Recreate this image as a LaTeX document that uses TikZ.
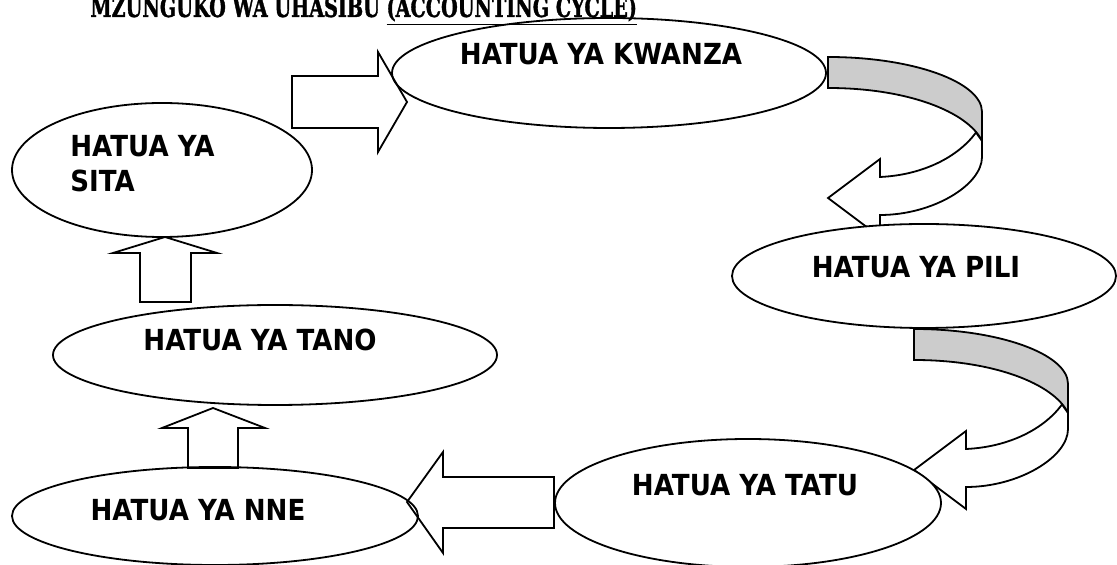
\documentclass[tikz,border=0pt]{standalone}
\usepackage{fontspec}
\newfontfamily\lblfont{DejaVu Sans}[FakeStretch=0.9]
\newfontfamily\ttlfont{DejaVu Serif}[FakeStretch=0.7,BoldFeatures={FakeBold=1.2}]
\usetikzlibrary{shapes.geometric}
\definecolor{bandgray}{RGB}{204,204,204}
\tikzset{
  curvedarrow/.pic={
    \draw[fill=bandgray,line width=0.9pt,line join=miter]
      (0,0) .. controls (85,0) and (154,25) .. (154,55) -- (154,84)
      .. controls (140,55) and (80,31) .. (0,31) -- cycle;
    \draw[fill=white,line width=0.9pt,line join=miter]
      (148,75.5) .. controls (130,100) and (95,118) .. (52,120)
      -- (52,102) -- (0,141) -- (52,180) -- (52,158)
      .. controls (105,158) and (154,128) .. (154,100) -- (154,84) -- cycle;
  }
}
\begin{document}
\begin{tikzpicture}[x=0.5pt,y=-0.5pt,
  stepell/.style={ellipse,draw,fill=white,line width=0.9pt,inner sep=0pt},
  lbl/.style={font=\lblfont\bfseries\fontsize{14.5}{17.5}\selectfont,inner sep=0pt},
  blockarrow/.style={draw,line width=0.9pt,line join=miter},
  ttl/.style={font=\ttlfont\bfseries\fontsize{13.7}{16}\selectfont,inner sep=0pt}
]
\useasboundingbox (0,0) rectangle (1117,565);
\clip (0,0) rectangle (1117,565);

% curved block arrows
\pic at (828,57) {curvedarrow};
\pic at (914,329) {curvedarrow};

% ellipses
\node[stepell,minimum width=217pt,minimum height=55pt] (e1) at (609,73) {};
\node[stepell,minimum width=192pt,minimum height=52pt] (e2) at (924,276) {};
\node[stepell,minimum width=193pt,minimum height=64pt] (e3) at (748,503) {};
\node[stepell,minimum width=203pt,minimum height=49pt] (e4) at (215,516) {};
\node[stepell,minimum width=222pt,minimum height=50pt] (e5) at (275,355) {};
\node[stepell,minimum width=150pt,minimum height=67pt] (e6) at (162,170) {};

% labels
\node[lbl] (t1) at (601,54) {HATUA YA KWANZA};
\node[lbl] (t2) at (916,267) {HATUA YA PILI};
\node[lbl] (t3) at (745,485) {HATUA YA TATU};
\node[lbl] (t4) at (198,510) {HATUA YA NNE};
\node[lbl] (t5) at (260,340) {HATUA YA TANO};
\node[lbl,align=left,anchor=north west] (t6) at (70,135) {HATUA YA\\SITA};

% straight block arrows
\draw[blockarrow] (292,76) -- (378,76) -- (378,52) -- (407,102) -- (378,152) -- (378,128) -- (292,128) -- cycle;
\draw[blockarrow] (140,302) -- (140,253) -- (113,253) -- (165,237) -- (217,253) -- (191,253) -- (191,302) -- cycle;
\draw[blockarrow] (188,468) -- (188,428) -- (162,428) -- (213,408) -- (265,428) -- (238,428) -- (238,468) -- cycle;
\draw[blockarrow] (554,477) -- (443,477) -- (443,452) -- (407,502) -- (443,553) -- (443,528) -- (554,528) -- cycle;

% title (cut off at the top)
\node[ttl,anchor=base west] (title) at (90,17) {MZUNGUKO WA UHASIBU \underline{(ACCOUNTING CYCLE)}};
\end{tikzpicture}
\end{document}
